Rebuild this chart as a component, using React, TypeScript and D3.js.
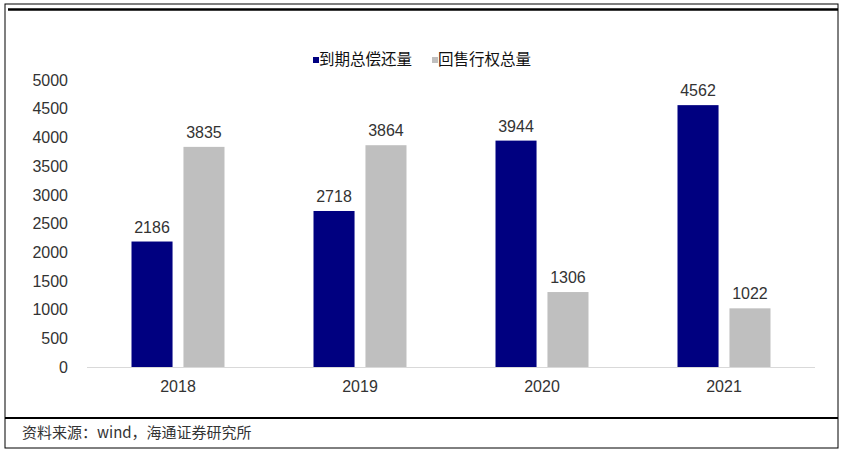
import * as d3 from 'd3';

const years = ['2018', '2019', '2020', '2021'];
const maturity = [2186, 2718, 3944, 4562];
const putback = [3835, 3864, 1306, 1022];
const yTicks = [0, 500, 1000, 1500, 2000, 2500, 3000, 3500, 4000, 4500, 5000];

const seriesList = [
  { key: 'maturity', label: '到期总偿还量', color: '#000080', values: maturity },
  { key: 'putback', label: '回售行权总量', color: '#BFBFBF', values: putback },
];

const W = 845;
const H = 454;
const numFont = '"Liberation Sans", Arial, sans-serif';
const cjkFont = '"Noto Sans CJK SC", sans-serif';

function App() {
  const x = d3.scaleBand<string>().domain(years).range([87, 815]).padding(0);
  const bw = x.bandwidth();
  const inner = d3
    .scaleBand<string>()
    .domain(seriesList.map((s) => s.key))
    .range([(bw - 93) / 2, (bw + 93) / 2])
    .paddingInner(0.21)
    .paddingOuter(0);
  const y = d3.scaleLinear().domain([0, 5000]).range([367, 80]);

  return (
    <svg width={W} height={H} style={{ position: 'fixed', left: 0, top: 0, background: '#fff' }}>
      {/* frame */}
      <rect x={5} y={4} width={833} height={444} fill="none" stroke="#000" strokeWidth={1} />
      <line x1={8} x2={838} y1={9.5} y2={9.5} stroke="#000" strokeWidth={2.5} />
      <line x1={5} x2={838} y1={418} y2={418} stroke="#000" strokeWidth={2} />

      {/* legend */}
      <g fontFamily={cjkFont} fontSize={15.5} fill="#111">
        <rect x={313} y={57} width={6} height={6} fill={seriesList[0].color} />
        <text x={319} y={64.5}>{seriesList[0].label}</text>
        <rect x={432} y={57} width={6} height={6} fill={seriesList[1].color} />
        <text x={438} y={64.5}>{seriesList[1].label}</text>
      </g>

      {/* y axis labels */}
      <g fontFamily={numFont} fontSize={16} fill="#333" textAnchor="end">
        {yTicks.map((t) => (
          <text key={t} x={68} y={y(t)} dy="0.36em">
            {t}
          </text>
        ))}
      </g>

      {/* bars */}
      {seriesList.map((s) => (
        <g key={s.key}>
          {years.map((yr, i) => {
            const bx = (x(yr) ?? 0) + (inner(s.key) ?? 0);
            const v = s.values[i];
            return (
              <g key={yr}>
                <rect x={bx} y={y(v)} width={inner.bandwidth()} height={y(0) - y(v)} fill={s.color} />
                <text
                  x={bx + inner.bandwidth() / 2}
                  y={y(v) - 9}
                  textAnchor="middle"
                  fontFamily={numFont}
                  fontSize={16}
                  fill="#333"
                >
                  {v}
                </text>
              </g>
            );
          })}
        </g>
      ))}

      {/* x axis */}
      <line x1={87} x2={815} y1={367.5} y2={367.5} stroke="#D9D9D9" strokeWidth={1} />
      <g fontFamily={numFont} fontSize={16} fill="#333" textAnchor="middle">
        {years.map((yr) => (
          <text key={yr} x={(x(yr) ?? 0) + bw / 2} y={392}>
            {yr}
          </text>
        ))}
      </g>

      {/* source */}
      <text x={22} y={438} fontFamily={cjkFont} fontSize={15} fill="#333">
        资料来源：wind，海通证券研究所
      </text>
    </svg>
  );
}

export default App;
